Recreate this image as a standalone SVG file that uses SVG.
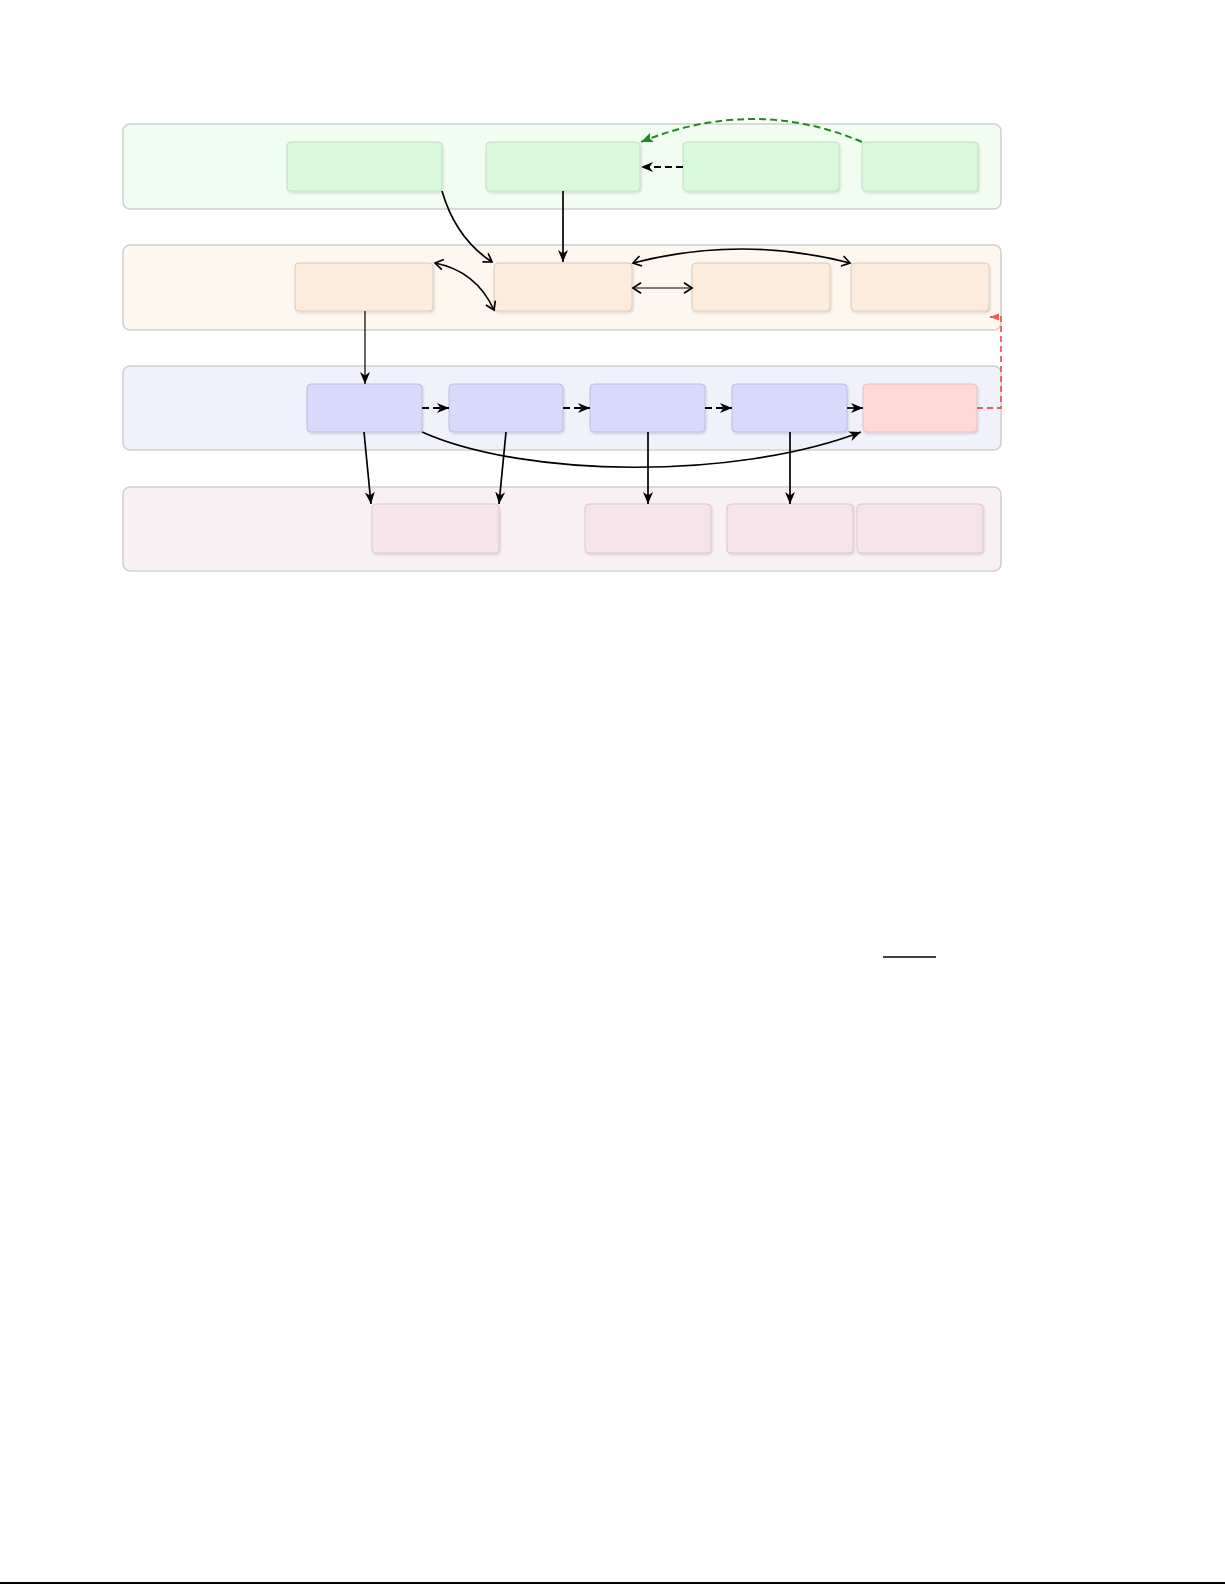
<svg xmlns="http://www.w3.org/2000/svg" width="1225" height="1585" viewBox="0 0 1225 1585">
<style>
.lane{stroke:#cfcfcf;stroke-width:1.5}
.node{stroke-width:1;filter:url(#sh)}
.g{fill:#daf9da;stroke:#bfe0bf}
.o{fill:#fdebdb;stroke:#dccbbb}
.b{fill:#d9dafb;stroke:#bcbde2}
.r{fill:#fdd9d8;stroke:#e6c3c3}
.p{fill:#f6e4ea;stroke:#dcc8ce}
.c{fill:none;stroke:#000;stroke-width:1.7}
.thin{stroke-width:1.2}
.dash{stroke-dasharray:7 4;stroke-width:2}
</style>
<defs>
<filter id="sh" x="-10%" y="-10%" width="125%" height="140%">
<feDropShadow dx="1" dy="1.5" stdDeviation="1" flood-color="#000" flood-opacity="0.14"/>
</filter>
<marker id="st" markerUnits="userSpaceOnUse" markerWidth="14" markerHeight="12" refX="12" refY="5" orient="auto">
<path d="M0,0 L12,5 L0,10 L3.5,5 z" fill="#000"/>
</marker>
<marker id="ch" markerUnits="userSpaceOnUse" markerWidth="14" markerHeight="14" refX="10" refY="6" orient="auto-start-reverse">
<path d="M2,0.8 L10,6 L2,11.2" fill="none" stroke="#000" stroke-width="1.7"/>
</marker>
<marker id="gr" markerUnits="userSpaceOnUse" markerWidth="14" markerHeight="12" refX="12" refY="5" orient="auto">
<path d="M0,0 L12,5 L0,10 L2.5,5 z" fill="#1f8a1f"/>
</marker>
<marker id="rd" markerUnits="userSpaceOnUse" markerWidth="10" markerHeight="8" refX="9" refY="3.5" orient="auto">
<path d="M0,0 L9,3.5 L0,7 z" fill="#e85d5d"/>
</marker>
</defs>
<rect width="1225" height="1585" fill="#fff"/>
<g id="lanes">
<rect id="lane-green" class="lane" x="123" y="124" width="878" height="85" rx="7" fill="#f1fdf1"/>
<rect id="lane-orange" class="lane" x="123" y="245" width="878" height="85" rx="7" fill="#fdf7f0"/>
<rect id="lane-blue" class="lane" x="123" y="366" width="878" height="84" rx="7" fill="#f1f1fc"/>
<rect id="lane-pink" class="lane" x="123" y="487" width="878" height="84" rx="7" fill="#f9f0f3"/>
</g>
<g id="g1"><rect class="node g" x="287" y="142" width="155" height="49" rx="4"/></g>
<g id="g2"><rect class="node g" x="486" y="142" width="154" height="49" rx="4"/></g>
<g id="g3"><rect class="node g" x="683" y="142" width="156" height="49" rx="4"/></g>
<g id="g4"><rect class="node g" x="862" y="142" width="116" height="49" rx="4"/></g>
<g id="o1"><rect class="node o" x="295" y="263" width="138" height="48" rx="4"/></g>
<g id="o2"><rect class="node o" x="494" y="263" width="138" height="48" rx="4"/></g>
<g id="o3"><rect class="node o" x="692" y="263" width="138" height="48" rx="4"/></g>
<g id="o4"><rect class="node o" x="851" y="263" width="138" height="48" rx="4"/></g>
<g id="b1"><rect class="node b" x="307" y="384" width="115" height="48" rx="4"/></g>
<g id="b2"><rect class="node b" x="449" y="384" width="114" height="48" rx="4"/></g>
<g id="b3"><rect class="node b" x="590" y="384" width="115" height="48" rx="4"/></g>
<g id="b4"><rect class="node b" x="732" y="384" width="115" height="48" rx="4"/></g>
<g id="r1"><rect class="node r" x="863" y="384" width="114" height="48" rx="4"/></g>
<g id="p1"><rect class="node p" x="372" y="504" width="127" height="49" rx="4"/></g>
<g id="p2"><rect class="node p" x="585" y="504" width="126" height="49" rx="4"/></g>
<g id="p3"><rect class="node p" x="727" y="504" width="126" height="49" rx="4"/></g>
<g id="p4"><rect class="node p" x="857" y="504" width="126" height="49" rx="4"/></g>
<g id="connectors">
<path class="c" d="M442,191 C451,222 466,245 492,262" marker-end="url(#ch)"/>
<path class="c" d="M563,191 V262" marker-end="url(#st)"/>
<path class="c dash" d="M683,167 H641" marker-end="url(#st)"/>
<path d="M862,142 Q754,96 641,142" fill="none" stroke="#1f8a1f" stroke-width="2" stroke-dasharray="7 4" marker-end="url(#gr)"/>
<path class="c" d="M633,263 Q742,235 850,263" marker-start="url(#ch)" marker-end="url(#ch)"/>
<path class="c thin" d="M633,288 H692" marker-start="url(#ch)" marker-end="url(#ch)"/>
<path class="c" d="M435,263 Q476,271 494,310" marker-start="url(#ch)" marker-end="url(#ch)"/>
<path class="c thin" d="M365,311 V384" marker-end="url(#st)"/>
<path class="c dash" d="M422,408 H449" marker-end="url(#st)"/>
<path class="c dash" d="M563,408 H590" marker-end="url(#st)"/>
<path class="c dash" d="M705,408 H732" marker-end="url(#st)"/>
<path class="c" d="M847,408 H863" marker-end="url(#st)"/>
<path class="c" d="M422,432 C525,478 735,480 861,432" marker-end="url(#st)"/>
<path class="c" d="M364,432 L371,504" marker-end="url(#st)"/>
<path class="c" d="M506,432 L499,504" marker-end="url(#st)"/>
<path class="c" d="M648,432 V504" marker-end="url(#st)"/>
<path class="c" d="M790,432 V504" marker-end="url(#st)"/>
<path d="M977,408 H1001 V317 H990" fill="none" stroke="#e85d5d" stroke-width="1.8" stroke-dasharray="6 4" marker-end="url(#rd)"/>
</g>
<line x1="883" y1="957" x2="936" y2="957" stroke="#000" stroke-width="1.5"/>
<line x1="0" y1="1583" x2="1225" y2="1583" stroke="#000" stroke-width="2"/>
</svg>
